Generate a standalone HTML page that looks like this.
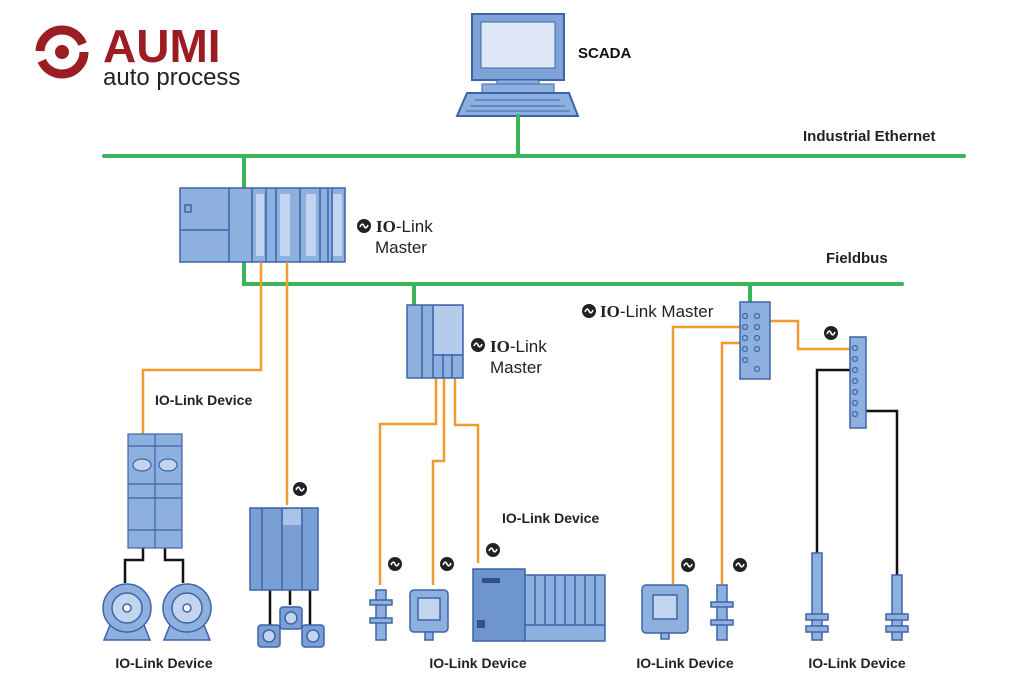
<!DOCTYPE html>
<html><head><meta charset="utf-8"><style>
html,body{margin:0;padding:0;background:#fff;width:1024px;height:683px;overflow:hidden}
svg{display:block}
text{font-family:"Liberation Sans",sans-serif}
</style></head><body>
<svg width="1024" height="683" viewBox="0 0 1024 683" xmlns="http://www.w3.org/2000/svg">
<defs>
<g id="ico"><circle r="7" fill="#222"/><path d="M-4,1 q2,-5 4,-1 q2,4 4,-1" stroke="#fff" stroke-width="1.6" fill="none"/></g>
</defs>
<!-- logo -->
<g fill="#9b1c22">
<circle cx="62" cy="52" r="22" fill="none" stroke="#9b1c22" stroke-width="9" stroke-dasharray="60 10"/>
<circle cx="62" cy="52" r="7"/>
</g>
<text x="103" y="62" font-size="46" font-weight="bold" fill="#9b1c22">AUMI</text>
<text x="103" y="85" font-size="24" fill="#222">auto process</text>

<!-- SCADA -->
<rect x="472" y="14" width="92" height="66" fill="#7fa3d6" stroke="#3d64a8" stroke-width="2"/>
<rect x="481" y="22" width="74" height="46" fill="#dde7f5" stroke="#3d64a8" stroke-width="1"/>
<rect x="497" y="80" width="42" height="5" fill="#8eb0de" stroke="#3d64a8"/>
<rect x="482" y="84" width="72" height="9" fill="#8eb0de" stroke="#3d64a8"/>
<path d="M467,93 L569,93 L578,116 L457,116 Z" fill="#8eb0de" stroke="#3d64a8" stroke-width="2"/>
<path d="M475,100 H560 M470,106 H565 M466,111 H570" stroke="#3d64a8" stroke-width="1"/>
<text x="578" y="58" font-size="15" font-weight="bold" fill="#111">SCADA</text>

<!-- networks -->
<g stroke="#3cb55a" stroke-width="4" fill="none" stroke-linecap="round">
<path d="M518,116 V156"/>
<path d="M104,156 H964"/>
<path d="M244,156 V188"/>
<path d="M244,262 V284 H902"/>
<path d="M414,284 V305"/>
<path d="M750,284 V302"/>
</g>
<text x="803" y="141" font-size="15" font-weight="bold" fill="#222">Industrial Ethernet</text>
<text x="826" y="263" font-size="15" font-weight="bold" fill="#222">Fieldbus</text>

<!-- PLC -->
<g stroke="#3d64a8" stroke-width="1.5" fill="#8eb0de">
<rect x="180" y="188" width="165" height="74"/>
<path d="M229,188 V262 M180,230 H229 M252,188 V262 M266,188 V262 M276,188 V262 M300,188 V262 M320,188 V262 M328,188 V262 M332,188 V262"/>
<rect x="256" y="194" width="8" height="62" fill="#c2d4ee" stroke="none"/>
<rect x="280" y="194" width="10" height="62" fill="#c2d4ee" stroke="none"/>
<rect x="306" y="194" width="10" height="62" fill="#c2d4ee" stroke="none"/>
<rect x="333" y="194" width="9" height="62" fill="#c2d4ee" stroke="none"/>
<rect x="185" y="205" width="6" height="7" fill="none"/>
</g>
<use href="#ico" x="364" y="226"/>
<text x="376" y="232" font-size="17" fill="#222"><tspan font-weight="bold" font-family="Liberation Serif">IO</tspan>-Link</text>
<text x="375" y="253" font-size="17" fill="#222">Master</text>

<!-- orange cables -->
<g stroke="#f39a2e" stroke-width="2.5" fill="none">
<path d="M261,262 V370 H143 V434"/>
<path d="M287,262 V505"/>
<path d="M436,378 V424 H380 V585"/>
<path d="M444,378 V461 H433 V585"/>
<path d="M455,378 V425 H478 V563"/>
<path d="M740,327 H673 V584"/>
<path d="M740,343 H722 V584"/>
<path d="M770,321 H798 V349 H850"/>
</g>
<g stroke="#111" stroke-width="2.5" fill="none">
<path d="M850,370 H817 V553"/>
<path d="M866,411 H897 V575"/>
<path d="M143,548 V560 H125 V583 M165,548 V560 H183 V583"/>
<path d="M270,590 V625 M290,590 V605 M310,590 V625"/>
</g>

<text x="155" y="405" font-size="14" font-weight="bold" fill="#222">IO-Link Device</text>

<!-- contactor -->
<g stroke="#3d64a8" stroke-width="1.2" fill="#8eb0de">
<rect x="128" y="434" width="54" height="114"/>
<path d="M155,434 V548 M128,446 H182 M128,484 H182 M128,498 H182 M128,530 H182"/>
<ellipse cx="142" cy="465" rx="9" ry="6" fill="#c2d4ee"/><ellipse cx="168" cy="465" rx="9" ry="6" fill="#c2d4ee"/>
</g>
<!-- motors -->
<g stroke="#3d64a8" stroke-width="1.5" fill="#8eb0de">
<path d="M104,640 L114,615 H140 L150,640 Z"/><circle cx="127" cy="608" r="24"/><circle cx="127" cy="608" r="15" fill="#c2d4ee"/><circle cx="127" cy="608" r="4" fill="#fff"/>
<path d="M164,640 L174,615 H200 L210,640 Z"/><circle cx="187" cy="608" r="24"/><circle cx="187" cy="608" r="15" fill="#c2d4ee"/><circle cx="187" cy="608" r="4" fill="#fff"/>
</g>

<!-- drive -->
<use href="#ico" x="300" y="489"/>
<g stroke="#3d64a8" stroke-width="1.5" fill="#7a9fd4">
<rect x="250" y="508" width="68" height="82"/>
<path d="M262,508 V590 M282,508 V590 M302,508 V590"/>
<rect x="283" y="509" width="18" height="16" fill="#a9c2e8" stroke="none"/>
<rect x="258" y="625" width="22" height="22" rx="3"/><circle cx="269" cy="636" r="6" fill="#c2d4ee"/>
<rect x="280" y="607" width="22" height="22" rx="3"/><circle cx="291" cy="618" r="6" fill="#c2d4ee"/>
<rect x="302" y="625" width="22" height="22" rx="3"/><circle cx="313" cy="636" r="6" fill="#c2d4ee"/>
</g>

<!-- master 2 -->
<g stroke="#3d64a8" stroke-width="1.5" fill="#8eb0de">
<rect x="407" y="305" width="56" height="73"/>
<path d="M422,305 V378 M433,305 V378 M443,305 V378 M452,305 V378 M433,355 H463"/>
<rect x="434" y="306" width="28" height="48" fill="#b5cbec" stroke="none"/>
</g>
<use href="#ico" x="478" y="345"/>
<text x="490" y="352" font-size="17" fill="#222"><tspan font-weight="bold" font-family="Liberation Serif">IO</tspan>-Link</text>
<text x="490" y="373" font-size="17" fill="#222">Master</text>

<!-- middle devices -->
<use href="#ico" x="395" y="564"/><use href="#ico" x="447" y="564"/><use href="#ico" x="493" y="550"/>
<g stroke="#3d64a8" stroke-width="1.5" fill="#8eb0de">
<rect x="376" y="590" width="10" height="50"/><rect x="370" y="600" width="22" height="5"/><rect x="370" y="618" width="22" height="5"/>
<rect x="410" y="590" width="38" height="42" rx="4"/><rect x="418" y="598" width="22" height="22" fill="#c2d4ee"/><rect x="425" y="632" width="8" height="8"/>
<rect x="473" y="569" width="52" height="72" fill="#6f95cf"/>
<rect x="525" y="575" width="80" height="66" fill="#8eb0de"/>
<path d="M535,575 V625 M545,575 V625 M555,575 V625 M565,575 V625 M575,575 V625 M585,575 V625 M595,575 V625 M525,625 H605"/>
<rect x="482" y="578" width="18" height="5" fill="#2f4f8f" stroke="none"/>
<rect x="477" y="620" width="8" height="8" fill="#2f4f8f" stroke="none"/>
</g>
<text x="502" y="523" font-size="14" font-weight="bold" fill="#222">IO-Link Device</text>

<!-- master 3 -->
<use href="#ico" x="589" y="311"/>
<text x="600" y="317" font-size="17" fill="#222"><tspan font-weight="bold" font-family="Liberation Serif">IO</tspan>-Link Master</text>
<g stroke="#3d64a8" stroke-width="1.5" fill="#8eb0de">
<rect x="740" y="302" width="30" height="77"/>
<rect x="850" y="337" width="16" height="91"/>
</g>
<g fill="none" stroke="#3d64a8" stroke-width="1.2">
<circle cx="745" cy="316" r="2.5"/><circle cx="745" cy="327" r="2.5"/><circle cx="745" cy="338" r="2.5"/><circle cx="745" cy="349" r="2.5"/><circle cx="745" cy="360" r="2.5"/>
<circle cx="757" cy="316" r="2.5"/><circle cx="757" cy="327" r="2.5"/><circle cx="757" cy="338" r="2.5"/><circle cx="757" cy="349" r="2.5"/><circle cx="757" cy="369" r="2.5"/>
<circle cx="855" cy="348" r="2.5"/><circle cx="855" cy="359" r="2.5"/><circle cx="855" cy="370" r="2.5"/><circle cx="855" cy="381" r="2.5"/><circle cx="855" cy="392" r="2.5"/><circle cx="855" cy="403" r="2.5"/><circle cx="855" cy="414" r="2.5"/>
</g>
<use href="#ico" x="831" y="333"/>

<!-- right devices -->
<use href="#ico" x="688" y="565"/><use href="#ico" x="740" y="565"/>
<g stroke="#3d64a8" stroke-width="1.5" fill="#8eb0de">
<rect x="642" y="585" width="46" height="48" rx="4"/><rect x="653" y="595" width="24" height="24" fill="#c2d4ee"/><rect x="661" y="633" width="8" height="6"/>
<rect x="717" y="585" width="10" height="55"/><rect x="711" y="602" width="22" height="5"/><rect x="711" y="620" width="22" height="5"/>
<rect x="812" y="553" width="10" height="87"/><rect x="806" y="614" width="22" height="6"/><rect x="806" y="626" width="22" height="6"/>
<rect x="892" y="575" width="10" height="65"/><rect x="886" y="614" width="22" height="6"/><rect x="886" y="626" width="22" height="6"/>
</g>

<g font-size="14" font-weight="bold" fill="#222" text-anchor="middle">
<text x="164" y="668">IO-Link Device</text>
<text x="478" y="668">IO-Link Device</text>
<text x="685" y="668">IO-Link Device</text>
<text x="857" y="668">IO-Link Device</text>
</g>
</svg>
</body></html>
